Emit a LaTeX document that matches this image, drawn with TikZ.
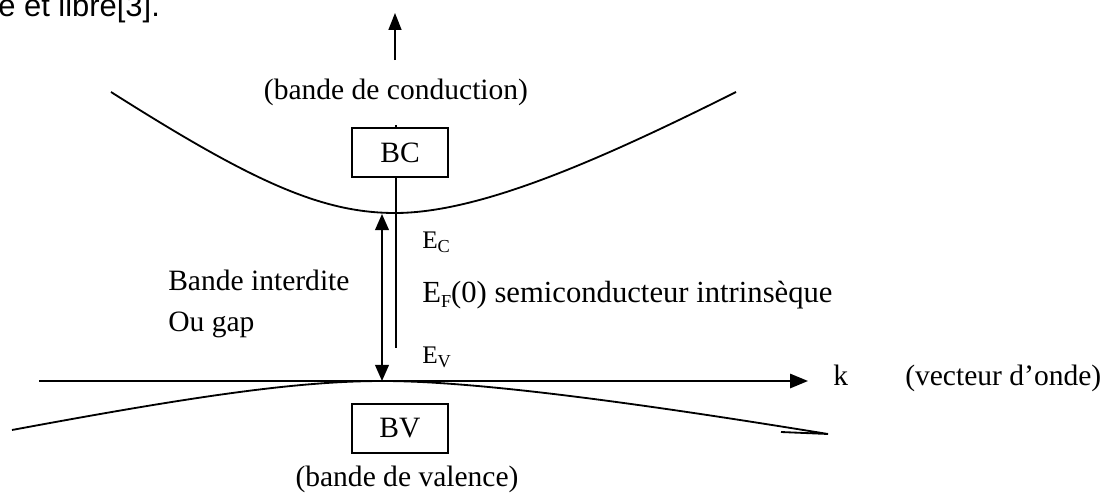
\documentclass[tikz,border=0pt]{standalone}
\usepackage{fontspec}
\setmainfont{Liberation Serif}
\newfontfamily\arialfont{Liberation Sans}
\usetikzlibrary{arrows.meta}
\newcommand\lowsub[1]{\raisebox{-0.17em}{\fontsize{13}{13}\selectfont #1}}
\tikzset{
  curve/.style={line width=1.3pt},
  axisline/.style={line width=1.3pt},
  arr/.style={line width=1.3pt, -{Triangle[length=0.42cm,width=0.32cm]}},
  darr/.style={line width=1.3pt, {Triangle[length=0.4cm,width=0.34cm]}-{Triangle[length=0.4cm,width=0.34cm]}},
  bandbox/.style={draw, line width=1pt, fill=white, minimum width=2.4cm, minimum height=1.225cm, inner sep=0pt, font=\fontsize{21}{25}\selectfont},
  txt/.style={inner sep=0pt, font=\fontsize{21}{25}\selectfont},
  bigtxt/.style={inner sep=0pt, font=\fontsize{21.8}{26}\selectfont},
  smalltxt/.style={inner sep=0pt, font=\fontsize{18}{22}\selectfont}
}
\begin{document}
\begin{tikzpicture}[x=0.025cm,y=-0.025cm]
\useasboundingbox (0,0) rectangle (1120,493);

% caption fragment at the top
\node[inner sep=0pt, anchor=base west, font=\arialfont\fontsize{22}{26}\selectfont] (frag) at (-2,17) {e et libre[3].};

% energy arrow
\coordinate (eb) at (395,60);
\coordinate (et) at (395,13);
\draw[arr] (eb) -- (et);
\node[txt, anchor=base] (cond) at (396,99) {(bande de conduction)};

% conduction band
\draw[curve] (111,92) .. controls (250,180) and (320,213) .. (395,213)
  .. controls (480,213) and (600,160) .. (736,92);

% valence band
\draw[curve] (12,430) .. controls (200,395) and (300,381) .. (383,381)
  .. controls (480,381) and (650,405) .. (828,434) -- (781,432);

% k axis
\coordinate (kl) at (39,381);
\coordinate (kr) at (808,381);
\draw[axisline, -{Triangle[length=0.45cm,width=0.36cm]}] (kl) -- (kr);
\node[txt, anchor=base west] (k) at (833,385) {k};
\node[txt, anchor=base west] (vec) at (905,385) {(vecteur d’onde)};

% vertical level line and BC box
\coordinate (vt) at (396,125);
\coordinate (vb) at (396,348);
\draw[line width=1.2pt] (vt) -- (vb);
\node[bandbox] (BC) at (400,152.5) {BC};
\node[bandbox] (BV) at (400,428.5) {BV};
\node[txt, anchor=base] (val) at (407,486) {(bande de valence)};

% gap arrow
\coordinate (gt) at (382,214);
\coordinate (gb) at (382,381);
\draw[darr] (gt) -- (gb);

% labels
\node[txt, anchor=base west] (gap) at (168,290) {Bande interdite};
\node[txt, anchor=base west] (gap2) at (168,331) {Ou gap};
\node[smalltxt, anchor=base west] (EC) at (422,248) {E\lowsub{C}};
\node[bigtxt, anchor=base west] (EF) at (422,302) {E\lowsub{F}(0) semiconducteur intrinsèque};
\node[smalltxt, anchor=base west] (EV) at (422,363) {E\lowsub{V}};
\end{tikzpicture}
\end{document}
